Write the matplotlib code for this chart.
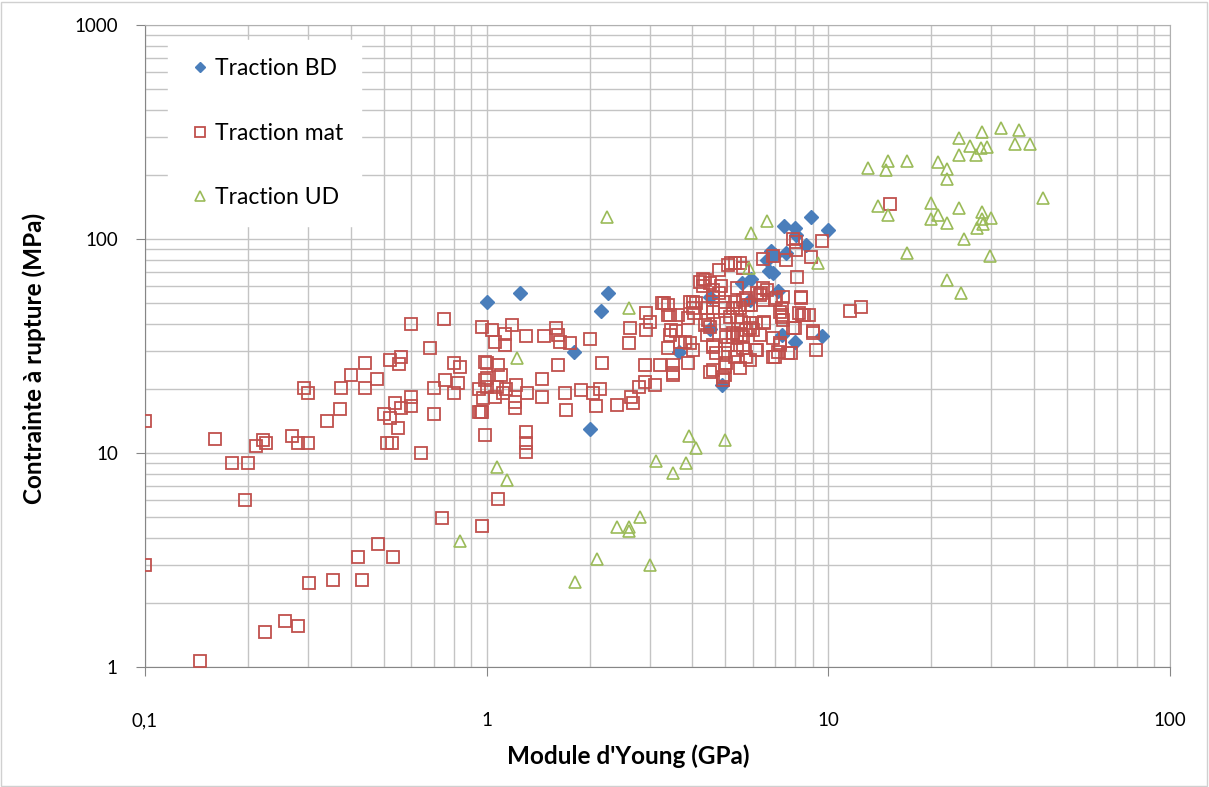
import numpy as np
import matplotlib
matplotlib.use("Agg")
import matplotlib.pyplot as plt
from matplotlib.ticker import LogLocator, FuncFormatter, NullFormatter
from matplotlib.patches import Rectangle

plt.rcParams['font.family'] = ['Lato', 'DejaVu Sans']

# Traction BD (module GPa, contrainte MPa)
bd_x = [1.0, 1.25, 2.26, 2.16, 1.80, 2.0, 3.65, 4.5, 4.5, 4.88, 5.6, 5.95, 5.9, 6.6, 6.7,
        6.9, 6.8, 7.0, 7.1, 7.3, 7.4, 7.5, 8.0, 8.0, 8.05, 8.6, 8.9, 9.6, 10.0]
bd_y = [50.5, 55.7, 55.7, 46, 29.7, 13, 29.5, 53.8, 38, 20.7, 62, 65, 52, 80, 71,
        69, 88, 84, 57, 35.6, 115, 86, 33, 112, 104, 94, 127, 35.2, 110.6]

# Traction mat
mat_x = [0.1, 0.16, 0.18, 0.2, 0.196, 0.211, 0.221, 0.226, 0.1, 0.145, 0.225, 0.257, 0.28, 0.302,
         0.356, 0.432, 0.42, 0.481, 0.531, 0.741, 0.97, 0.641, 0.292, 0.30, 0.372, 0.34, 0.269,
         0.28, 0.30, 0.375, 0.40, 0.44, 0.44, 0.478, 0.52, 0.56, 0.555, 0.60, 0.50, 0.52, 0.54,
         0.56, 0.55, 0.51, 0.53, 0.60, 0.60, 0.681, 0.752, 0.97, 0.70, 0.70, 0.757, 0.80, 0.838,
         0.824, 0.80, 0.97, 0.99, 0.99, 0.99, 0.95, 0.975, 0.95,
         1.04, 1.055, 1.13, 1.13, 1.19, 1.30, 1.47, 1.6, 1.62, 1.64, 1.75, 2.0, 1.62, 2.17, 2.62,
         2.61, 2.93, 3.0, 2.93, 3.25, 3.39, 3.39, 3.63, 3.88, 4.02, 3.47, 3.59, 3.39, 3.8, 4.02,
         4.35, 4.4, 4.6, 5.0, 4.6, 4.92, 3.21, 3.5, 3.5, 2.9, 2.9, 3.1, 2.8, 2.65, 2.68, 2.4,
         2.09, 2.14, 2.05, 1.89, 1.70, 1.71, 1.45, 1.45, 1.31, 1.22, 1.21, 1.21, 1.14, 1.12,
         1.07, 1.055, 1.0, 1.0, 0.965, 1.0, 1.08, 1.10, 1.30, 1.30, 1.30, 1.08,
         4.2, 4.35, 4.5, 4.3, 4.6, 4.86, 4.8, 5.08, 5.32, 5.63, 5.0, 5.25, 5.15, 5.63, 5.95,
         6.37, 6.45, 6.6, 7.0, 7.36, 8.3, 8.1, 7.3, 7.36, 8.4, 8.8, 9.0, 9.2, 8.0, 6.9, 7.2,
         7.6, 6.9, 6.5, 6.15, 5.9, 5.75, 6.0, 5.4, 5.63, 5.25, 6.2, 5.75, 5.9, 5.4, 5.5, 5.03,
         5.0, 4.5, 5.08, 4.8, 5.03, 5.4, 5.55, 4.6, 4.4, 4.1, 4.05, 4.6,
         15.2, 11.6, 12.5, 9.6, 8.9, 8.05, 7.9, 8.05, 7.5, 6.9, 6.45, 8.3, 6.2,
         5.2, 5.5, 4.3, 5.4, 6.45, 6.3, 5.75, 5.33, 5.0, 5.5, 5.8, 7.05, 7.2, 7.3, 8.5, 3.3,
         3.43, 3.93, 4.02, 4.6, 4.45, 4.5, 3.43, 3.67, 3.93, 3.88, 3.5, 4.6, 5.03, 5.25, 5.55,
         5.9, 6.5, 6.3, 5.63, 6.15, 5.33, 5.0, 4.92, 4.7, 7.0, 7.1, 7.2, 7.75, 7.9, 9.0, 8.2, 7.3]
mat_y = [14.1, 11.6, 9.0, 9.0, 6.0, 10.8, 11.5, 11.1, 3.0, 1.07, 1.46, 1.64, 1.56, 2.48,
         2.55, 2.55, 3.28, 3.74, 3.25, 4.95, 4.57, 10.0, 20.2, 19.1, 16.0, 14.1, 12.0,
         11.1, 11.1, 20.2, 23.1, 26.3, 20.2, 22.1, 27.2, 28.2, 26.0, 40.0, 15.2, 14.6, 17.1,
         16.2, 13.1, 11.1, 11.1, 18.3, 16.6, 31.0, 42.3, 38.7, 20.2, 15.2, 21.9, 26.3, 25.1,
         21.2, 19.0, 15.5, 12.1, 26.7, 21.9, 20.0, 18.0, 15.6,
         37.6, 33, 36, 32, 39.6, 35.2, 35.2, 38.3, 35.6, 33, 32.5, 34, 25.8, 26.3, 38.3,
         32.5, 45, 41, 37.6, 50, 49, 44, 44, 42.6, 51, 37.6, 37, 30.9, 33, 30.3,
         39.6, 35.6, 32, 29.2, 24.4, 22.7, 25.8, 25.8, 23.1, 25.8, 21.5, 20.8, 20.4, 18.3, 17.1, 16.8,
         16.5, 20, 19, 19.7, 19, 15.8, 22.1, 18.2, 19.1, 20.8, 17.4, 16.2, 20, 19,
         20.4, 18.3, 22.3, 20.4, 15.6, 26.3, 25.8, 23.1, 12.6, 11.1, 10.1, 6.1,
         63, 64, 62, 60, 57.8, 60, 71.6, 75.6, 77, 73, 51, 47.5, 43.4, 52, 49,
         55.7, 52, 57.8, 52, 53.8, 53.8, 66.7, 44, 41.8, 44, 44, 37, 30.3, 38.3, 34.3, 32,
         29.2, 28.2, 41, 40.4, 40.4, 37.6, 37.6, 35.6, 35, 35, 30.3, 28.2, 27.2, 30.3, 24.9, 26.3,
         23.1, 24, 32, 55.7, 40.4, 43.4, 41, 45.7, 47.5, 50, 45, 53.8,
         145, 46, 48, 98, 82, 97, 100, 89, 80, 83, 81, 53, 56,
         77.5, 77.5, 65, 58.8, 58.8, 54.7, 52.8, 51, 47.5, 47.5, 49, 52.8, 45.7, 43.4, 44, 50,
         44, 51, 47.5, 47.5, 41.8, 39, 35.6, 33, 32.5, 26.3, 23.6, 31.4, 35, 36.2, 35.6,
         38.3, 40.4, 35.6, 30.9, 30.3, 28.2, 25.3, 22, 29.2, 28.2, 29.7, 32.5, 29.2, 38.3, 36.2, 45, 47.5]

# Traction UD
ud_x = [0.834, 2.61, 1.23, 3.91, 4.1, 5.0, 3.12, 3.82, 3.5, 1.07, 1.15, 5.87, 9.3, 2.41, 2.61,
        2.61, 2.81, 2.11, 3.01, 1.81, 2.25, 6.6, 5.95,
        13.1, 15.0, 14.7, 17.0, 21.0, 22.2, 22.2, 24.1, 24.1, 26.0, 28.2, 27.0, 28.0, 29.2,
        32.1, 36.1, 35.1, 39.0, 42.5, 14.0, 15.0, 20.0, 21.0, 20.0, 22.2, 24.1, 28.1, 28.1,
        27.2, 30.0, 28.3, 25.0, 17.0, 29.8, 22.2, 24.4]
ud_y = [3.9, 47.5, 27.7, 12, 10.5, 11.5, 9.2, 9.0, 8.1, 8.6, 7.5, 73, 77.5, 4.5, 4.5,
        4.3, 5.0, 3.2, 3.0, 2.5, 127, 121, 107,
        214, 232, 209, 232, 228, 212, 190, 297, 247, 273, 317, 247, 267, 270,
        331, 323, 277, 277, 156, 143, 130, 147, 129, 124, 119, 139, 133, 124,
        113, 125, 118, 100, 86, 83, 64, 56]

fig = plt.figure(figsize=(12.09, 7.87), dpi=100)
ax = fig.add_axes([145 / 1209, 1 - 667 / 787, 1025 / 1209, 642 / 787])

ax.plot(bd_x, bd_y, linestyle='none', marker='D', markersize=7,
        color='#4a7ebb', markeredgecolor='#4a7ebb', label='Traction BD', zorder=3)
ax.plot(mat_x, mat_y, linestyle='none', marker='s', markersize=8.5,
        markerfacecolor='none', markeredgecolor='#c0504d', markeredgewidth=1.3,
        label='Traction mat', zorder=3)
ax.plot(ud_x, ud_y, linestyle='none', marker='^', markersize=9,
        markerfacecolor='none', markeredgecolor='#9bbb59', markeredgewidth=1.2,
        label='Traction UD', zorder=3)

ax.set_xscale('log')
ax.set_yscale('log')
ax.set_xlim(0.1, 100)
ax.set_ylim(1, 1000)

ax.xaxis.set_major_locator(LogLocator(base=10, numticks=10))
ax.yaxis.set_major_locator(LogLocator(base=10, numticks=10))
ax.xaxis.set_minor_locator(LogLocator(base=10, subs=np.arange(2, 10), numticks=20))
ax.yaxis.set_minor_locator(LogLocator(base=10, subs=np.arange(2, 10), numticks=20))
ax.xaxis.set_minor_formatter(NullFormatter())
ax.yaxis.set_minor_formatter(NullFormatter())

def fmt(v, pos):
    if v < 1:
        return ('%g' % v).replace('.', ',')
    return '%d' % round(v)

ax.xaxis.set_major_formatter(FuncFormatter(fmt))
ax.yaxis.set_major_formatter(FuncFormatter(fmt))

ax.grid(True, which='both', color='#c4c4c4', linewidth=1.0, zorder=0)
ax.set_axisbelow(True)
ax.tick_params(which='major', direction='out', length=6.5, color='#868686',
               labelsize=13.5, labelcolor='#000000')
ax.tick_params(axis='x', which='major', pad=26)
ax.tick_params(axis='y', which='major', pad=13)
ax.tick_params(which='minor', length=0)
for s in ['left', 'bottom']:
    ax.spines[s].set_color('#868686')
for s in ['top', 'right']:
    ax.spines[s].set_color('#b0b0b0')

ax.set_xlabel("Module d'Young (GPa)", fontsize=17.5, fontweight='bold')
ax.set_ylabel("Contrainte à rupture (MPa)", fontsize=17.5, fontweight='bold')
ax.xaxis.set_label_coords(0.471, -0.12)
ax.yaxis.set_label_coords(-0.097, 0.48)

leg = ax.legend(loc='upper left', bbox_to_anchor=(0.011, 0.995), fontsize=16.5,
                frameon=True, fancybox=False, edgecolor='white', facecolor='white',
                framealpha=1.0, labelspacing=1.9, handletextpad=0.05, borderpad=0.8,
                handlelength=1.2, markerscale=0.8)
leg.set_zorder(5)

fig.patches.append(Rectangle((0.001, 0.001), 0.997, 0.997, transform=fig.transFigure,
                             fill=False, edgecolor='#d0d0d0', linewidth=1.0))

fig.savefig('out.png', dpi=100)
